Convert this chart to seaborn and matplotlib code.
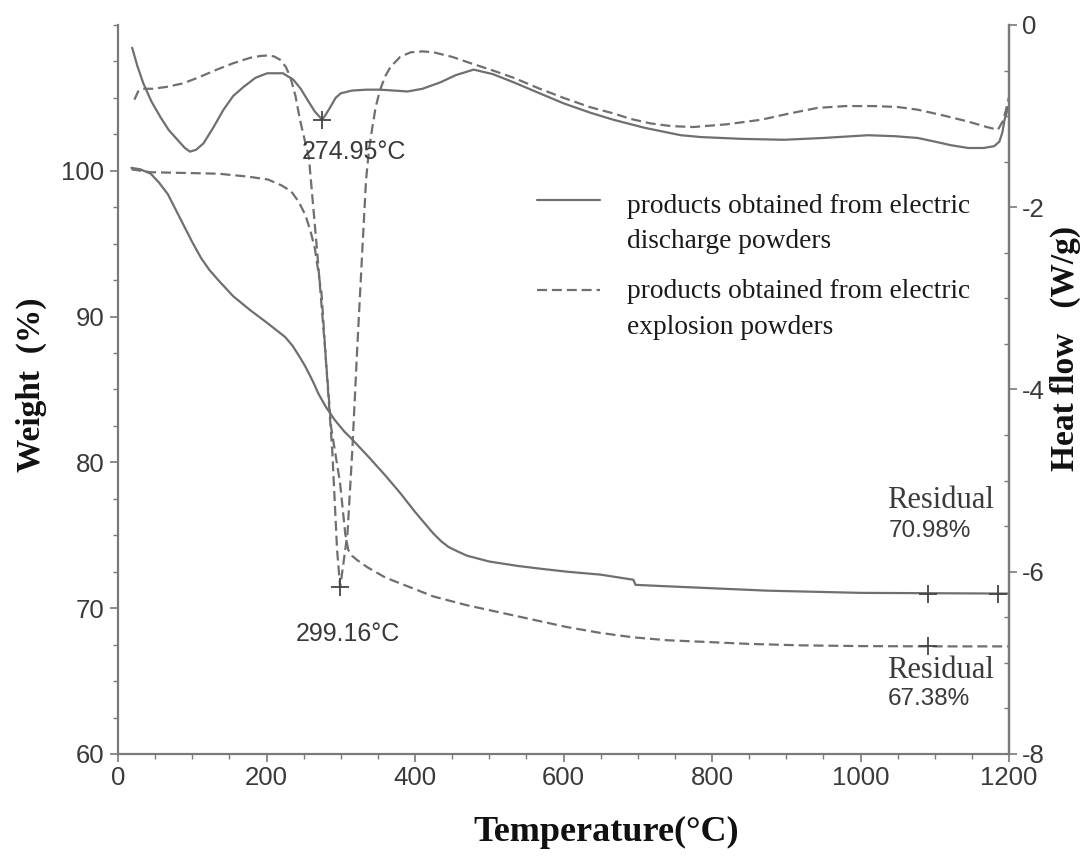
import numpy as np
import pandas as pd
import matplotlib
matplotlib.use("Agg")
import matplotlib.pyplot as plt
import seaborn as sns
from matplotlib.lines import Line2D
from matplotlib.ticker import MultipleLocator

# TGA curves (weight %, left axis)
tga_dis_T = [18, 30, 44, 55, 67, 78, 90, 100, 112, 123, 135, 155, 179, 200, 225, 235, 245, 252,
             262, 270, 280, 292, 305, 313, 337, 360, 380, 400, 415, 425, 435, 445, 457, 470, 500,
             538, 570, 605, 650, 694, 697, 740, 785, 875, 1000, 1200]
tga_dis_W = [100.2, 100.1, 99.8, 99.2, 98.4, 97.3, 96.1, 95.1, 94.0, 93.2, 92.5, 91.4, 90.4, 89.6,
             88.6, 88.0, 87.2, 86.6, 85.6, 84.7, 83.8, 82.9, 82.1, 81.7, 80.4, 79.1, 77.9, 76.6,
             75.7, 75.1, 74.6, 74.2, 73.9, 73.6, 73.2, 72.9, 72.7, 72.5, 72.3, 71.95, 71.6, 71.5,
             71.4, 71.2, 71.05, 71.0]

tga_exp_T = [18, 44, 90, 135, 175, 202, 220, 233, 243, 252, 259, 265, 274, 280, 287, 299, 306,
             310, 315, 322, 336, 360, 390, 425, 470, 515, 560, 605, 650, 694, 740, 785, 850, 920,
             1000, 1091, 1200]
tga_exp_W = [100.1, 99.9, 99.85, 99.8, 99.6, 99.4, 99.0, 98.6, 97.9, 97.0, 95.9, 94.7, 91.6, 87.0,
             82.4, 78.6, 75.1, 74.0, 73.6, 73.3, 72.8, 72.1, 71.5, 70.8, 70.2, 69.7, 69.2, 68.7,
             68.3, 68.0, 67.8, 67.7, 67.55, 67.45, 67.4, 67.38, 67.38]

# DSC curves (heat flow W/g, right axis)
dsc_dis_T = [19, 26, 34, 45, 57, 68, 80, 90, 97, 105, 115, 128, 142, 155, 169, 185, 201, 222, 236,
             246, 255, 265, 274.95, 280, 286, 293, 300, 315, 335, 353, 372, 390, 410, 434, 455,
             479, 505, 533, 565, 600, 635, 667, 710, 758, 785, 840, 897, 950, 1010, 1045, 1077,
             1100, 1122, 1145, 1166, 1180, 1187, 1191, 1194, 1199]
dsc_dis_H = [-0.25, -0.45, -0.64, -0.84, -1.01, -1.15, -1.26, -1.35, -1.39, -1.37, -1.30, -1.13,
             -0.93, -0.78, -0.68, -0.58, -0.53, -0.53, -0.60, -0.70, -0.82, -0.95, -1.04, -0.98,
             -0.90, -0.80, -0.75, -0.72, -0.71, -0.71, -0.72, -0.73, -0.70, -0.63, -0.55, -0.49,
             -0.54, -0.63, -0.74, -0.86, -0.96, -1.04, -1.13, -1.21, -1.23, -1.25, -1.26, -1.24,
             -1.21, -1.22, -1.24, -1.28, -1.32, -1.35, -1.35, -1.33, -1.28, -1.18, -1.04, -0.90]

dsc_exp_T = [22, 27, 33, 47, 65, 88, 110, 133, 155, 178, 192, 201, 210, 218, 226, 232, 239, 245,
             251, 257, 268, 279, 288.5, 295, 299.16, 309, 315.5, 322, 329, 334, 338, 342, 347,
             353, 360, 367, 380, 394, 410, 425, 450, 475, 505, 533, 565, 600, 635, 667, 690, 717,
             745, 775, 820, 866, 905, 942, 980, 1018, 1050, 1077, 1110, 1145, 1170, 1185, 1192,
             1196, 1200]
dsc_exp_H = [-0.82, -0.73, -0.70, -0.70, -0.68, -0.64, -0.57, -0.49, -0.42, -0.36, -0.34, -0.335,
             -0.345, -0.38, -0.46, -0.57, -0.78, -1.04, -1.25, -1.45, -2.47, -3.57, -4.67, -5.76,
             -6.17, -5.58, -4.67, -3.57, -2.47, -1.70, -1.37, -1.15, -0.90, -0.71, -0.56, -0.46,
             -0.35, -0.30, -0.29, -0.30, -0.35, -0.42, -0.50, -0.58, -0.69, -0.80, -0.90, -0.97,
             -1.03, -1.08, -1.11, -1.12, -1.09, -1.04, -0.97, -0.91, -0.89, -0.89, -0.90, -0.93,
             -0.99, -1.06, -1.12, -1.15, -1.05, -0.93, -0.79]

# marked points
peak_T = [274.95, 299.16]
peak_H = [-1.04, -6.17]
res_T = [1091, 1185, 1091]
res_W = [71.0, 71.0, 67.38]

sns.set_theme(style="ticks")
plt.rcParams["font.family"] = ["Liberation Sans", "DejaVu Sans"]
plt.rcParams["axes.unicode_minus"] = False

line_c = "#6f6f6f"
axis_c = "#7a7a7a"
text_c = "#3a3a3a"
serif = ["Liberation Serif", "DejaVu Serif"]
dash = (4.5, 2.2)

fig = plt.figure(figsize=(10.83, 8.61), dpi=100)
ax = fig.add_axes([0.109, 0.1243, 0.8227, 0.8467])
ax2 = ax.twinx()

df_tga_dis = pd.DataFrame({"T": tga_dis_T, "W": tga_dis_W})
df_tga_exp = pd.DataFrame({"T": tga_exp_T, "W": tga_exp_W})
df_dsc_dis = pd.DataFrame({"T": dsc_dis_T, "H": dsc_dis_H})
df_dsc_exp = pd.DataFrame({"T": dsc_exp_T, "H": dsc_exp_H})

sns.lineplot(data=df_tga_dis, x="T", y="W", ax=ax, color=line_c, lw=1.6, estimator=None)
sns.lineplot(data=df_tga_exp, x="T", y="W", ax=ax, color=line_c, lw=1.6, estimator=None,
             linestyle=(0, dash))
sns.lineplot(data=df_dsc_dis, x="T", y="H", ax=ax2, color=line_c, lw=1.6, estimator=None)
sns.lineplot(data=df_dsc_exp, x="T", y="H", ax=ax2, color=line_c, lw=1.6, estimator=None,
             linestyle=(0, dash))

ax.plot(res_T, res_W, ls="none", marker="+", ms=13, mew=1.3, color="#444444")
ax2.plot(peak_T, peak_H, ls="none", marker="+", ms=13, mew=1.3, color="#444444")

# axes limits / ticks
ax.set_xlim(0, 1200)
ax.set_ylim(60, 110)
ax2.set_ylim(-8, 0)
ax.set_xticks(range(0, 1201, 200))
ax.xaxis.set_minor_locator(MultipleLocator(50))
ax.set_yticks([60, 70, 80, 90, 100])
ax.yaxis.set_minor_locator(MultipleLocator(2.5))
ax2.set_yticks([-8, -6, -4, -2, 0])
ax2.yaxis.set_minor_locator(MultipleLocator(0.5))

for a in (ax, ax2):
    a.spines["top"].set_visible(False)
    for s in a.spines.values():
        s.set_color(axis_c)
        s.set_linewidth(1.6)
    a.tick_params(which="major", length=6, width=1.2, color=axis_c, labelsize=18.5,
                  labelcolor=text_c, pad=3)
    a.tick_params(which="minor", length=3.5, width=1.0, color=axis_c)
ax2.spines["left"].set_visible(False)
ax2.spines["bottom"].set_visible(False)
ax2.tick_params(axis="y", which="minor", direction="in")
ax.tick_params(axis="y", pad=4)

ax.set_xlabel("Temperature(°C)", family=serif, fontweight="bold", fontsize=26, color="#111111")
ax.set_ylabel("Weight  (%)", family=serif, fontweight="bold", fontsize=24, color="#111111")
ax2.set_ylabel("Heat flow   (W/g)", family=serif, fontweight="bold", fontsize=24, color="#111111")
for lab in (ax.xaxis.label, ax.yaxis.label, ax2.yaxis.label):
    lab.set_va("center")
    lab.set_ha("center")
ax.xaxis.set_label_coords(0.548, -0.108)
ax.yaxis.set_label_coords(-0.097, 0.506)
ax2.yaxis.set_label_coords(1.063, 0.556)

# annotations
ax2.text(318, -1.39, "274.95°C", ha="center", va="center", fontsize=18, color=text_c)
ax.text(310, 68.2, "299.16°C", ha="center", va="center", fontsize=18, color=text_c)
ax.text(1036, 77.4, "Residual", ha="left", va="center", fontsize=22, family=serif, color=text_c)
ax.text(1038, 75.3, "70.98%", ha="left", va="center", fontsize=17.5, color=text_c)
ax.text(1036, 65.75, "Residual", ha="left", va="center", fontsize=22, family=serif, color=text_c)
ax.text(1037, 63.8, "67.38%", ha="left", va="center", fontsize=17.5, color=text_c)

# legend drawn by hand
ax.add_line(Line2D([0.470, 0.541], [0.760, 0.760], transform=ax.transAxes, color=line_c, lw=1.6))
ax.add_line(Line2D([0.470, 0.541], [0.636, 0.636], transform=ax.transAxes, color=line_c, lw=1.6,
                   linestyle=(0, dash)))
ax.text(0.571, 0.727, "products obtained from electric\ndischarge powders", transform=ax.transAxes,
        ha="left", va="center", fontsize=19.7, family=serif, color="#1a1a1a", linespacing=1.55)
ax.text(0.571, 0.610, "products obtained from electric\nexplosion powders", transform=ax.transAxes,
        ha="left", va="center", fontsize=19.7, family=serif, color="#1a1a1a", linespacing=1.55)

fig.savefig("out.png", dpi=100)
